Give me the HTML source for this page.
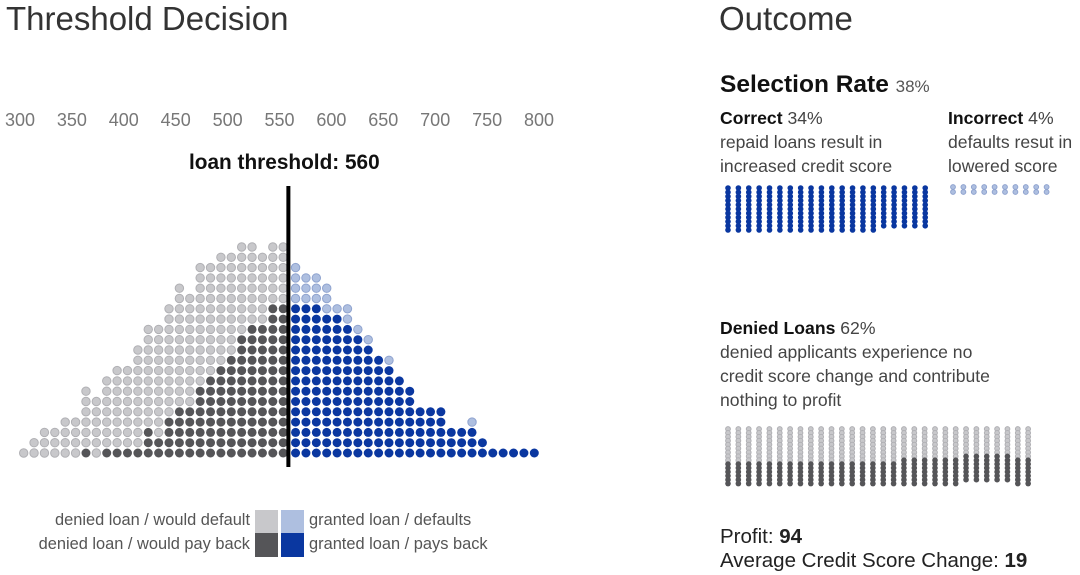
<!DOCTYPE html>
<html><head><meta charset="utf-8">
<style>
body{margin:0;background:#fff;font-family:"Liberation Sans",sans-serif;}
#root{position:relative;width:1080px;height:575px;overflow:hidden;}
.t{position:absolute;white-space:nowrap;color:#222;}
</style></head>
<body>
<div id="root">
<div class="t" style="left:6px;top:0px;font-size:33px;color:#333;">Threshold Decision</div>
<div class="t" style="left:719px;top:0px;font-size:33px;color:#333;">Outcome</div>
<div class="t" style="left:720px;top:71px;font-size:24.5px;font-weight:bold;color:#111;">Selection Rate <span style="font-weight:normal;font-size:17px;color:#555;">38%</span></div>
<div class="t" style="left:720px;top:106px;font-size:17.6px;line-height:24px;color:#444;"><b style="color:#111">Correct</b> 34%<br>repaid loans result in<br>increased credit score</div>
<div class="t" style="left:948px;top:106px;font-size:17.6px;line-height:24px;color:#444;"><b style="color:#111">Incorrect</b> 4%<br>defaults resut in<br>lowered score</div>
<div class="t" style="left:720px;top:316px;font-size:17.6px;line-height:24px;color:#444;"><b style="color:#111">Denied Loans</b> 62%<br>denied applicants experience no<br>credit score change and contribute<br>nothing to profit</div>
<div class="t" style="left:720px;top:525px;font-size:20.5px;color:#222;">Profit: <b>94</b></div>
<div class="t" style="left:720px;top:549px;font-size:20.5px;color:#222;">Average Credit Score Change: <b>19</b></div>
<div class="t" style="left:189px;top:151px;font-size:20.8px;font-weight:bold;color:#111;">loan threshold: 560</div>

<div class="t" style="left:0;top:0;">
<div class="t" style="right:-250px;top:511px;font-size:16.4px;color:#555;">denied loan / would default</div>
<div class="t" style="right:-250px;top:535px;font-size:16.4px;color:#555;">denied loan / would pay back</div>
<div class="t" style="left:309px;top:511px;font-size:16.4px;color:#555;">granted loan / defaults</div>
<div class="t" style="left:309px;top:535px;font-size:16.4px;color:#555;">granted loan / pays back</div>
<div class="t" style="left:255px;top:510px;width:23px;height:23px;background:#c8c8cb;"></div>
<div class="t" style="left:281px;top:510px;width:23px;height:23px;background:#aebfe0;"></div>
<div class="t" style="left:255px;top:533px;width:23px;height:24px;background:#555558;"></div>
<div class="t" style="left:281px;top:533px;width:23px;height:24px;background:#0a37a0;"></div>
</div>

<svg id="chart" width="1080" height="575" style="position:absolute;left:0;top:0;"></svg>
</div>
<script>
const tickLabels=[300,350,400,450,500,550,600,650,700,750,800];
const threshold=560;
const deniedScores=[300,310,320,330,340,350,360,370,380,390,400,410,420,430,440,450,460,470,480,490,500,510,520,530,540,550];
const deniedWouldPay=[0,0,0,0,0,0,1,0,1,1,1,1,3,2,4,5,5,7,8,9,10,12,13,13,15,15];
const deniedWouldDefault=[1,2,3,3,4,4,6,6,7,8,8,10,10,11,11,12,11,12,11,11,10,9,8,7,6,6];
const grantedScores=[560,570,580,590,600,610,620,630,640,650,660,670,680,690,700,710,720,730,740,750,760,770,780,790];
const grantedPays=[15,15,15,14,14,13,12,11,10,9,8,7,5,5,5,3,3,3,2,1,1,1,1,1];
const grantedDefaults=[4,3,3,3,1,2,1,1,0,1,0,0,0,0,0,0,0,1,0,0,0,0,0,0];
const correctCols=[11,11,11,11,11,11,11,11,11,11,11,11,11,11,11,10,10,10,10,10];
const incorrectCols=[2,2,2,2,2,2,2,2,2,2];
const deniedPayCols=[6,6,6,6,6,6,6,6,6,6,6,6,6,6,6,6,6,7,7,7,7,7,7,7,7,7,7,7,7,7];
const deniedDefaultCols=[9,9,9,9,9,9,9,9,9,9,9,9,9,9,9,9,9,8,8,8,8,8,8,7,7,7,7,7,8,8];

const NS="http://www.w3.org/2000/svg";
const svg=document.getElementById('chart');
const C={lg:'#c8c8cb',lgS:'#b0b0b4',dg:'#555558',lb:'#aebfe0',lbS:'#8fa3cf',db:'#0a37a0'};
function x(s){return 20+(s-300)*1.038;}
function dotX(s){return x(s+5)+(s>=threshold?0.5:-1.5);}
function rowY(r){return 453-r*10.3;}
function dot(cx,cy,r,fill,stroke,name){
  const c=document.createElementNS(NS,'circle');
  c.setAttribute('cx',cx);c.setAttribute('cy',cy);c.setAttribute('r',r);
  c.setAttribute('fill',fill);
  if(stroke){c.setAttribute('stroke',stroke);c.setAttribute('stroke-width',1);}
  
  
  svg.appendChild(c);
}
tickLabels.forEach(v=>{
  const t=document.createElementNS(NS,'text');
  t.setAttribute('x',x(v));t.setAttribute('y',126);t.setAttribute('text-anchor','middle');
  t.setAttribute('font-size',18);t.setAttribute('fill','#777');
  t.setAttribute('font-family','Liberation Sans, sans-serif');
  t.textContent=v;
  
  
  svg.appendChild(t);
});
deniedScores.forEach((s,i)=>{
  let r=0;
  for(let k=0;k<deniedWouldPay[i];k++,r++)dot(dotX(s),rowY(r),4.5,C.dg,null,'dot-denied-would-pay');
  for(let k=0;k<deniedWouldDefault[i];k++,r++)dot(dotX(s),rowY(r),4.2,C.lg,C.lgS,'dot-denied-would-default');
});
grantedScores.forEach((s,i)=>{
  let r=0;
  for(let k=0;k<grantedPays[i];k++,r++)dot(dotX(s),rowY(r),4.5,C.db,null,'dot-granted-pays');
  for(let k=0;k<grantedDefaults[i];k++,r++)dot(dotX(s),rowY(r),4.2,C.lb,C.lbS,'dot-granted-defaults');
});
const line=document.createElementNS(NS,'line');
line.setAttribute('x1',x(threshold)-1.5);line.setAttribute('x2',x(threshold)-1.5);
line.setAttribute('y1',186);line.setAttribute('y2',467);
line.setAttribute('stroke','#000');line.setAttribute('stroke-width',4);


svg.appendChild(line);

correctCols.forEach((n,i)=>{for(let k=0;k<n;k++)dot(728+i*10.38,188+k*4.2,2.8,C.db,null,'dot-correct');});
incorrectCols.forEach((n,i)=>{for(let k=0;k<n;k++)dot(953+i*10.4,187+k*5,2.4,C.lb,C.lbS,'dot-incorrect');});
deniedPayCols.forEach((n,i)=>{
  const d=deniedDefaultCols[i];
  for(let k=0;k<d;k++)dot(728+i*10.35,429+k*3.9,2.4,C.lg,C.lgS,'dot-denied-default');
  for(let k=0;k<n;k++)dot(728+i*10.35,429+(d+k)*3.9,2.8,C.dg,null,'dot-denied-pay');
});
</script>
</body></html>
